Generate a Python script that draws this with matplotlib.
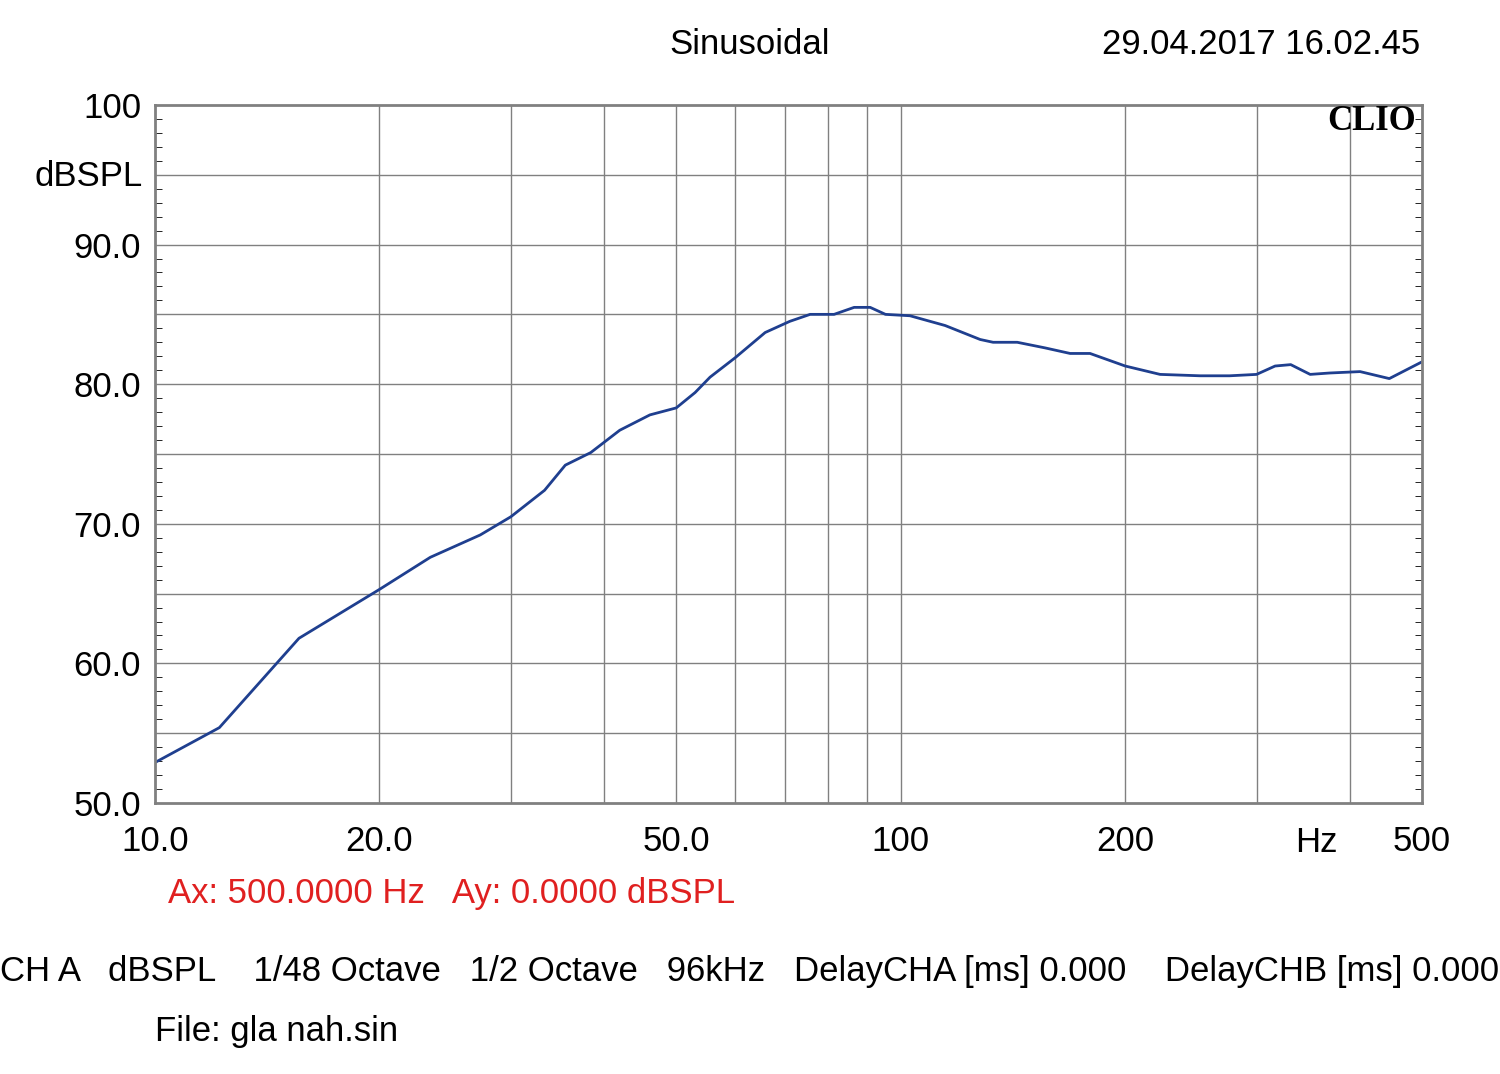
import matplotlib
matplotlib.use("Agg")
import matplotlib.pyplot as plt
from matplotlib.ticker import FixedLocator, NullFormatter

plt.rcParams["font.family"] = ["Liberation Sans", "DejaVu Sans"]

freq = [10, 12.2, 15.6, 20, 23.4, 27.3, 30, 33.3, 35.5, 38.4, 42.0, 46.1, 50, 53.0, 55.5,
        60, 65.8, 71.0, 75.6, 81.4, 86.6, 91.0, 95.4, 102.9, 114.7, 127.8, 133, 143.3,
        156.1, 168.7, 179.4, 200, 222.7, 252, 276, 300, 317.7, 333.4, 354, 376, 413, 452, 500]
spl = [52.9, 55.4, 61.8, 65.3, 67.6, 69.2, 70.5, 72.4, 74.2, 75.1, 76.7, 77.8, 78.3, 79.4, 80.5,
       81.9, 83.7, 84.5, 85.0, 85.0, 85.5, 85.5, 85.0, 84.9, 84.2, 83.2, 83.0, 83.0,
       82.6, 82.2, 82.2, 81.3, 80.7, 80.6, 80.6, 80.7, 81.3, 81.4, 80.7, 80.8, 80.9, 80.4, 81.6]

xgrid = [20, 30, 40, 50, 60, 70, 80, 90, 100, 200, 300, 400]
xticks = [10, 20, 50, 100, 200, 500]
xlabels = ["10.0", "20.0", "50.0", "100", "200", "500"]
yticks = [50, 60, 70, 80, 90, 100]
ylabels = ["50.0", "60.0", "70.0", "80.0", "90.0", "100"]

FS = 25
fig = plt.figure(figsize=(15, 10.74), dpi=100)
ax = fig.add_axes([0.1033, 0.2523, 0.8447, 0.65])
ax.set_xscale("log")
ax.set_xlim(10, 500)
ax.set_ylim(50, 100)
for g in xgrid:
    ax.axvline(g, color="#808080", lw=1)
for g in range(55, 100, 5):
    ax.axhline(g, color="#808080", lw=1)
ax.plot(freq, spl, color="#1f3f8f", lw=2)

ax.xaxis.set_major_locator(FixedLocator(xticks))
ax.xaxis.set_minor_locator(FixedLocator([]))
ax.xaxis.set_minor_formatter(NullFormatter())
ax.set_xticklabels(xlabels)
ax.set_yticks(yticks)
ax.set_yticklabels(ylabels)
ax.yaxis.set_minor_locator(FixedLocator([v for v in range(50, 101) if v % 5]))
ax.tick_params(axis="both", which="both", length=0, labelsize=FS)
ax.tick_params(axis="x", pad=16)
ax.tick_params(axis="y", pad=10)
ax.tick_params(axis="y", which="minor", direction="in", length=5, left=True, right=True)
for s in ax.spines.values():
    s.set_color("#808080")
    s.set_linewidth(2)

fig.text(143 / 1500, 1 - 176 / 1074, "dBSPL", fontsize=FS, ha="right", va="center")
fig.text(1316 / 1500, 1 - 842 / 1074, "Hz", fontsize=FS, ha="center", va="center")
fig.text(1372 / 1500, 1 - 122 / 1074, "CLIO", fontsize=FS, ha="center", va="center",
         fontweight="bold", family="Liberation Serif")
fig.text(750 / 1500, 1 - 45 / 1074, "Sinusoidal", fontsize=FS, ha="center", va="center")
fig.text(1420 / 1500, 1 - 45 / 1074, "29.04.2017 16.02.45", fontsize=FS, ha="right", va="center")
fig.text(168 / 1500, 1 - 893 / 1074, "Ax: 500.0000 Hz   Ay: 0.0000 dBSPL", fontsize=FS,
         color="#e02020", ha="left", va="center")
fig.text(0, 1 - 972 / 1074,
         "CH A   dBSPL    1/48 Octave   1/2 Octave   96kHz   DelayCHA [ms] 0.000    DelayCHB [ms] 0.000",
         fontsize=FS, ha="left", va="center")
fig.text(155 / 1500, 1 - 1031 / 1074, "File: gla nah.sin", fontsize=FS, ha="left", va="center")

fig.savefig("out.png", dpi=100)
